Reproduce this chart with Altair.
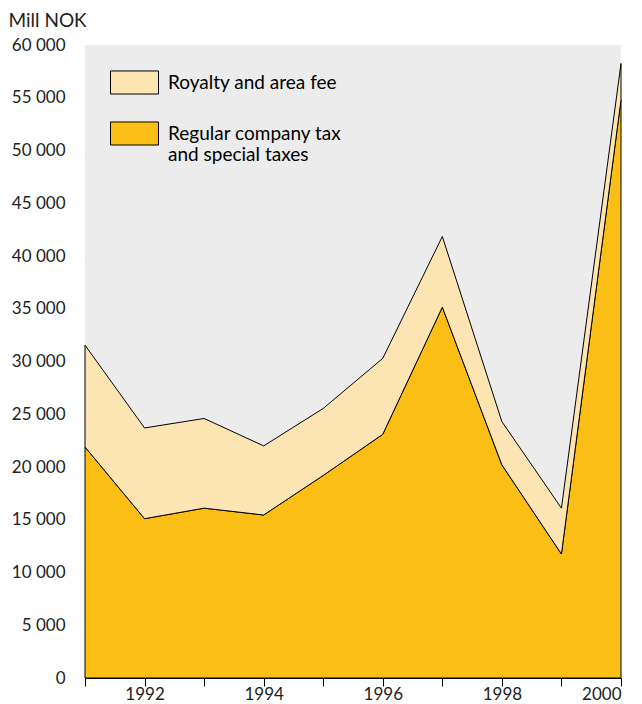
import altair as alt
import pandas as pd

years = [1991, 1992, 1993, 1994, 1995, 1996, 1997, 1998, 1999, 2000]
regular_tax = [21900, 15100, 16100, 15450, 19200, 23100, 35150, 20200, 11750, 54800]
royalty_fee = [9650, 8600, 8500, 6550, 6350, 7200, 6700, 4100, 4350, 3450]

series_names = ["Royalty and area fee", "Regular company tax and special taxes"]
series_colors = ["#fde5b3", "#fbbe14"]

rows = []
for y, r, f in zip(years, regular_tax, royalty_fee):
    rows.append({"year": y, "value": r, "series": series_names[1], "ord": 0})
    rows.append({"year": y, "value": f, "series": series_names[0], "ord": 1})
df = pd.DataFrame(rows)

FONT = "Lato"

chart = alt.Chart(df).mark_area(stroke="black", strokeWidth=1, opacity=1).encode(
    x=alt.X("year:Q",
            scale=alt.Scale(domain=[1991, 2000], nice=False, zero=False),
            axis=alt.Axis(values=years, format="d", title=None,
                          labelExpr="datum.value % 2 == 0 ? datum.label : ''",
                          tickSize=8, tickColor="black", domainColor="black",
                          labelPadding=0, grid=False)),
    y=alt.Y("value:Q", stack="zero",
            scale=alt.Scale(domain=[0, 60000], nice=False),
            axis=alt.Axis(values=list(range(0, 60001, 5000)),
                          labelExpr="replace(format(datum.value, ','), ',', ' ')",
                          title="Mill NOK", titleAngle=0, titleX=-77, titleY=-19,
                          titleAlign="left", titleBaseline="alphabetic",
                          titleFontSize=19,
                          domain=False, ticks=False, grid=False, labelPadding=20)),
    color=alt.Color("series:N",
                    scale=alt.Scale(domain=series_names, range=series_colors),
                    legend=alt.Legend(
                        title=None, orient="none", legendX=25, legendY=13,
                        symbolType="M-1,-0.48L1,-0.48L1,0.48L-1,0.48Z",
                        symbolSize=2304, symbolStrokeColor="black",
                        symbolStrokeWidth=1, symbolOpacity=1,
                        labelExpr="datum.label == 'Regular company tax and special taxes' ? ['Regular company tax', 'and special taxes'] : datum.label",
                        labelFontSize=19, labelFont=FONT, labelColor="black",
                        labelLimit=400, rowPadding=12, labelOffset=9,
                        labelBaseline="middle", padding=0)),
    order=alt.Order("ord:Q"),
).properties(
    width=536, height=633,
    background="white",
    padding={"left": 85, "top": 45, "right": 21, "bottom": 26},
    autosize=alt.AutoSizeParams(type="none"),
).configure_view(
    fill="#ececec", stroke=None
).configure_axis(
    labelFont=FONT, labelFontSize=17, labelColor="#222222",
    titleFont=FONT, titleFontSize=17, titleColor="#222222", titleFontWeight="normal"
)

chart.save("out.html", embed_options={"renderer": "svg", "actions": False})
